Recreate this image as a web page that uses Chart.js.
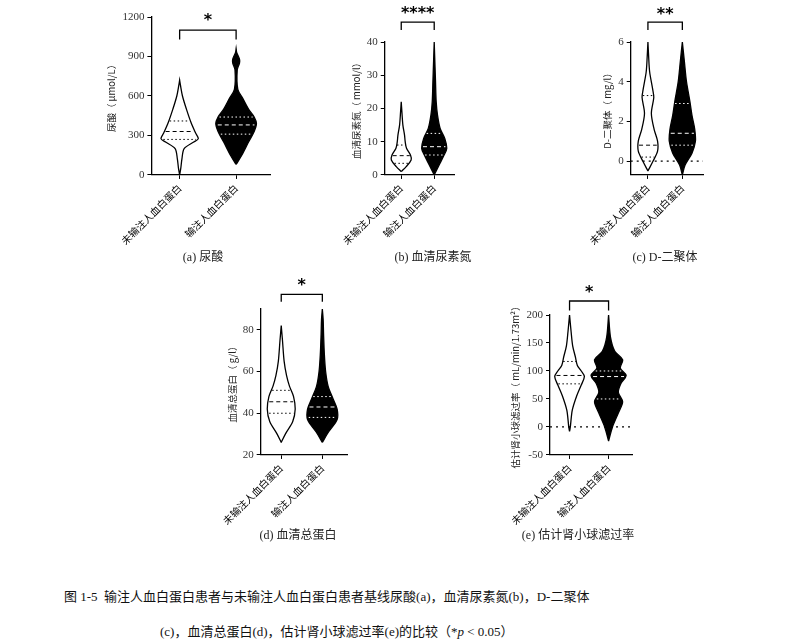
<!DOCTYPE html>
<html><head><meta charset="utf-8">
<script src="https://cdn.jsdelivr.net/npm/chart.js@4.4.0/dist/chart.umd.min.js"></script>
<style>
body{margin:0;background:#fff;width:795px;height:642px;position:relative;overflow:hidden;font-family:"Liberation Serif","Noto Sans CJK SC",serif}
.p{position:absolute}
.cap{position:absolute;font-size:12px;color:#222;text-align:center;width:200px}
.fig{position:absolute;font-size:13px;color:#111}
</style></head><body>
<div class="p" style="left:104px;top:-13px;width:170px;height:263px"><canvas id="ca"></canvas></div>
<div class="p" style="left:333px;top:-13px;width:125px;height:263px"><canvas id="cb"></canvas></div>
<div class="p" style="left:581px;top:-13px;width:126px;height:263px"><canvas id="cc"></canvas></div>
<div class="p" style="left:213px;top:267px;width:138px;height:263px"><canvas id="cd"></canvas></div>
<div class="p" style="left:500px;top:267px;width:136px;height:263px"><canvas id="ce"></canvas></div>
<div class="cap" style="left:103px;top:247px">(a) 尿酸</div>
<div class="cap" style="left:333px;top:247px">(b) 血清尿素氮</div>
<div class="cap" style="left:565px;top:247px">(c) D-二聚体</div>
<div class="cap" style="left:198px;top:525px">(d) 血清总蛋白</div>
<div class="cap" style="left:478px;top:525px">(e) 估计肾小球滤过率</div>
<div class="fig" style="left:64px;top:586px">图 1-5 &nbsp;输注人血白蛋白患者与未输注人血白蛋白患者基线尿酸(a)，血清尿素氮(b)，D-二聚体</div>
<div class="fig" style="left:160px;top:621px">(c)，血清总蛋白(d)，估计肾小球滤过率(e)的比较（*<i>p</i> &lt; 0.05）</div>
<script>
const groups = ['未输注人血白蛋白', '输注人血白蛋白'];

// violin profiles: [value, half width]
const uaOpen = [[0,0],[50,0.02],[120,0.04],[200,0.08],[250,0.25],[275,0.33],[320,0.28],[400,0.2],[500,0.12],[600,0.05],[680,0.015],[720,0]];
const uaFill = [[80,0],[150,0.1],[250,0.22],[330,0.32],[390,0.36],[440,0.32],[500,0.22],[580,0.12],[650,0.03],[800,0.02],[850,0.06],[880,0.06],[930,0.01],[960,0]];
const uaStats = [[270,330,410],[310,380,440]];

const bunOpen = [[1,0],[2.5,0.15],[4.5,0.3],[6,0.28],[8,0.16],[10,0.12],[12,0.1],[15,0.05],[19,0.02],[22,0]];
const bunFill = [[0,0],[3,0.15],[6,0.3],[8,0.38],[11,0.32],[14,0.18],[18,0.1],[22,0.06],[28,0.04],[34,0.02],[40,0]];
const bunStats = [[3.5,5.8,9],[6,8.5,12.5]];

const ddOpen = [[-0.5,0],[0,0.15],[0.5,0.28],[1,0.28],[1.6,0.18],[2.4,0.1],[3.2,0.17],[3.6,0.14],[4.5,0.05],[5.3,0.02],[6,0]];
const ddFill = [[-0.7,0],[-0.2,0.08],[0.4,0.28],[1,0.38],[1.6,0.36],[2.3,0.28],[3,0.22],[4,0.12],[5,0.06],[6,0]];
const ddStats = [[0.2,0.8,3.3],[0.8,1.4,2.9]];

const tpOpen = [[26,0],[30,0.1],[36,0.28],[42,0.34],[48,0.3],[53,0.2],[58,0.13],[65,0.07],[75,0.03],[82,0]];
const tpFill = [[26,0],[31,0.15],[37,0.36],[42,0.36],[47,0.26],[53,0.14],[60,0.08],[68,0.05],[78,0.03],[85,0.02],[90,0]];
const tpStats = [[40,45.5,51],[38,43,48]];

const egOpen = [[-8,0],[0,0.02],[30,0.07],[55,0.18],[75,0.3],[90,0.38],[100,0.3],[110,0.2],[125,0.15],[145,0.08],[170,0.04],[200,0]];
const egFill = [[-25,0],[0,0.1],[25,0.25],[45,0.36],[62,0.25],[78,0.32],[92,0.45],[105,0.3],[120,0.36],[135,0.16],[160,0.05],[200,0]];
const egStats = [[77,92,117],[50,90,100]];

function outline(prof, c) {
  const right = prof.map(([v, w]) => ({ x: c + w, y: v }));
  const left = prof.slice().reverse().map(([v, w]) => ({ x: c - w, y: v }));
  return right.concat(left, [right[0]]);
}
function widthAt(prof, v) {
  for (let i = 1; i < prof.length; i++) {
    const [v0, w0] = prof[i - 1], [v1, w1] = prof[i];
    if (v >= v0 && v <= v1) return w0 + (w1 - w0) * (v - v0) / (v1 - v0);
  }
  return 0;
}
function statLines(prof, stats, c, color) {
  return stats.map((v, i) => {
    const w = widthAt(prof, v) * 0.92;
    return {
      type: 'scatter', showLine: true, pointRadius: 0, borderWidth: 1,
      borderColor: color, borderDash: i === 1 ? [4, 3] : [1.5, 2.5],
      data: [{ x: c - w, y: v }, { x: c + w, y: v }],
    };
  });
}

const starPlugin = {
  id: 'star',
  afterDatasetsDraw(chart, args, opts) {
    const { ctx, scales } = chart;
    ctx.save();
    ctx.fillStyle = '#000';
    ctx.font = 'bold 16px "DejaVu Sans"';
    ctx.textAlign = 'center';
    ctx.textBaseline = 'middle';
    ctx.fillText(opts.text, scales.x.getPixelForValue(1.5), scales.y.getPixelForValue(opts.y));
    ctx.restore();
  },
};

function panel(id, o) {
  const datasets = [
    ...statLines(o.open, o.stats[0], 1, '#000'),
    ...statLines(o.filled, o.stats[1], 2, '#fff'),
    { type: 'scatter', showLine: true, pointRadius: 0, borderColor: '#000', borderWidth: 1.3, fill: 'shape', backgroundColor: '#fff', data: outline(o.open, 1), tension: 0.3 },
    { type: 'scatter', showLine: true, pointRadius: 0, borderColor: '#000', borderWidth: 1.3, fill: 'shape', backgroundColor: '#000', data: outline(o.filled, 2), tension: 0.3 },
    { type: 'scatter', showLine: true, pointRadius: 0, borderColor: '#000', borderWidth: 1.3, clip: false,
      data: [{ x: 1, y: o.br[0] }, { x: 1, y: o.br[1] }, { x: 2, y: o.br[1] }, { x: 2, y: o.br[0] }] },
  ];
  if (o.zero) datasets.unshift({ type: 'scatter', showLine: true, pointRadius: 0, borderColor: '#000', borderWidth: 1.3, borderDash: [2, 4],
    data: [{ x: 0.5, y: 0 }, { x: 2.6, y: 0 }] });
  new Chart(document.getElementById(id), {
    type: 'scatter',
    data: { datasets },
    plugins: [starPlugin],
    options: {
      responsive: true, maintainAspectRatio: false, animation: false,
      layout: { padding: { top: o.pad, right: 4 } },
      plugins: { legend: { display: false }, tooltip: { enabled: false }, star: { text: o.star, y: o.starY } },
      scales: {
        x: {
          min: 0.5, max: 2.6,
          afterBuildTicks: (s) => { s.ticks = [{ value: 1 }, { value: 2 }]; },
          grid: { drawOnChartArea: false, tickLength: 4, color: '#000' },
          border: { color: '#000', width: 1.3 },
          ticks: { color: '#000', minRotation: 45, maxRotation: 45, font: { family: '"Noto Sans CJK SC"', size: 10 },
            callback: (v) => groups[v - 1] },
        },
        y: {
          min: o.min, max: o.max,
          afterBuildTicks: (s) => { s.ticks = o.ticks.map((value) => ({ value })); },
          grid: { drawOnChartArea: false, tickLength: 4, color: '#000' },
          border: { color: '#000', width: 1.3 },
          ticks: { color: '#333', font: { family: '"Liberation Serif"', size: 11 }, callback: (v) => String(v) },
          title: { display: true, text: o.ylabel, color: '#222', font: { family: '"Noto Sans CJK SC"', size: 9.5 }, padding: 2 },
        },
      },
    },
  });
}

panel('ca', { pad: 30, open: uaOpen, filled: uaFill, stats: uaStats, min: 0, max: 1200, ticks: [0, 300, 600, 900, 1200], br: [1030, 1100], star: '*', starY: 1170, ylabel: '尿酸（ μmol/L）' });
panel('cb', { pad: 55, open: bunOpen, filled: bunFill, stats: bunStats, min: 0, max: 40, ticks: [0, 10, 20, 30, 40], br: [43.6, 46], star: '****', starY: 48.5, ylabel: '血清尿素氮（ mmol/l）' });
panel('cc', { pad: 55, open: ddOpen, filled: ddFill, stats: ddStats, min: -0.7, max: 6, ticks: [0, 2, 4, 6], br: [6.6, 7.0], star: '**', starY: 7.35, ylabel: 'D-二聚体（ mg/l）', zero: true });
panel('cd', { pad: 42, open: tpOpen, filled: tpFill, stats: tpStats, min: 20, max: 90, ticks: [20, 40, 60, 80], br: [93.5, 97], star: '*', starY: 101, ylabel: '血清总蛋白（ g/l）' });
panel('ce', { pad: 48, open: egOpen, filled: egFill, stats: egStats, min: -50, max: 200, ticks: [-50, 0, 50, 100, 150, 200], br: [208, 225], star: '*', starY: 240, ylabel: '估计肾小球滤过率（ mL/min/1.73m²）', zero: true });
</script>
</body></html>
